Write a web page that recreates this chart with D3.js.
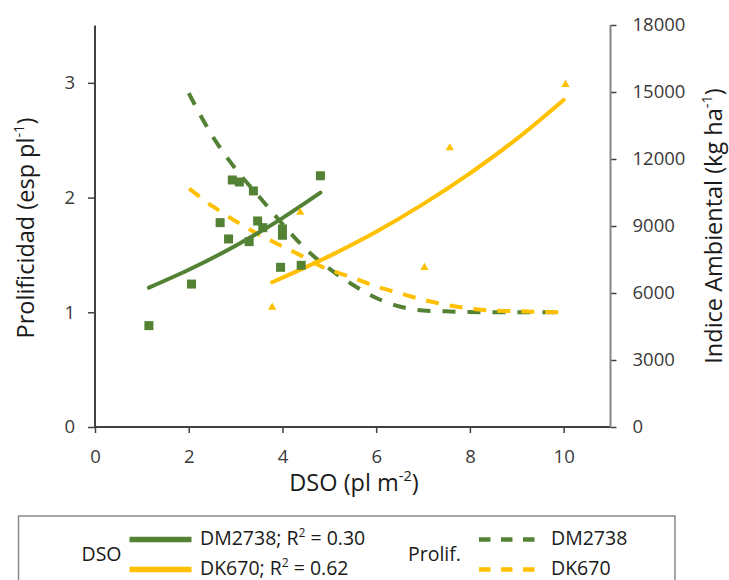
<!DOCTYPE html>
<html><head><meta charset="utf-8">
<script src="https://cdn.jsdelivr.net/npm/d3@7"></script>
<style>
body{margin:0;background:#fff;}
svg{display:block;font-family:"Open Sans",sans-serif;}
</style></head>
<body><svg id="c" width="729" height="580"></svg>
<script>
// ---- data ----
const xTicks = [0, 2, 4, 6, 8, 10];
const leftTicks = [0, 1, 2, 3];
const rightTicks = [0, 3000, 6000, 9000, 12000, 15000, 18000];

// scatter: DSO (x) vs Indice Ambiental (right axis)
const dm2738Dso = [1.15, 2.06, 2.67, 2.85, 2.93, 3.08, 3.38, 3.29, 3.47, 3.58, 4.00, 4.00, 3.96, 4.40, 4.81];
const dm2738Ia  = [4540, 6400, 9150, 8420, 11060, 10970, 10570, 8300, 9225, 8925, 8870, 8585, 7150, 7240, 11250];
const dk670Dso = [3.78, 4.38, 7.03, 7.57, 10.04];
const dk670Ia  = [5360, 9615, 7135, 12495, 15330];

// DSO trend lines (right axis)
const dm2738TrendX = [1.15, 2, 3, 4, 4.81];
const dm2738TrendY = [6240, 7040, 8115, 9355, 10490];
const dk670TrendX = [3.78, 5, 6, 7, 8, 9, 10];
const dk670TrendY = [6480, 7650, 8740, 9980, 11360, 12900, 14645];

// Prolificacy curves (left axis)
const dm2738ProlX = [2.0, 2.5, 3.0, 3.5, 4.0, 4.5, 5.0, 5.5, 6.0, 6.5, 7.0, 7.5, 8.5, 9.9];
const dm2738ProlY = [2.91, 2.54, 2.25, 2.01, 1.77, 1.55, 1.38, 1.24, 1.125, 1.05, 1.015, 1.008, 1.0, 1.0];
const dk670ProlX = [2.01, 2.53, 3.03, 3.49, 3.95, 4.45, 4.88, 5.45, 5.98, 6.52, 7.09, 7.66, 8.30, 8.94, 10.0];
const dk670ProlY = [2.078, 1.918, 1.787, 1.680, 1.585, 1.483, 1.390, 1.309, 1.228, 1.164, 1.100, 1.053, 1.019, 1.010, 0.999];

const GREEN = "#548235", YELLOW = "#FFC000";

// ---- scales ----
const svg = d3.select("#c");
const x = d3.scaleLinear().domain([0, 11]).range([95, 610.5]);
const yL = d3.scaleLinear().domain([0, 3.5]).range([427, 25.5]);
const yR = d3.scaleLinear().domain([0, 18000]).range([427, 25]);

// ---- axes ----
const axisDark = "#404040", axisGrey = "#868686";
const gx = svg.append("g").attr("transform", "translate(0,427)")
  .call(d3.axisBottom(x).tickValues(xTicks).tickSize(6).tickPadding(16.5).tickFormat(d3.format("d")));
const gl = svg.append("g").attr("transform", "translate(95,0)")
  .call(d3.axisLeft(yL).tickValues(leftTicks).tickSize(7).tickPadding(13).tickFormat(d3.format("d")));
const gr = svg.append("g").attr("transform", "translate(610.5,0)")
  .call(d3.axisRight(yR).tickValues(rightTicks).tickSize(6).tickPadding(16).tickFormat(d3.format("d")));
[gx, gl, gr].forEach(g => {
  g.select(".domain").remove();
  g.selectAll(".tick line").attr("stroke", axisDark).attr("stroke-width", 1.5);
  g.selectAll(".tick text").attr("font-family", "Open Sans").attr("font-size", 18.5).attr("fill", "#3a3a3a");
});
svg.append("line").attr("x1", 95).attr("x2", 610.5).attr("y1", 427).attr("y2", 427).attr("stroke", axisDark).attr("stroke-width", 2);
svg.append("line").attr("x1", 95).attr("x2", 95).attr("y1", yL(3.5)).attr("y2", 427).attr("stroke", axisDark).attr("stroke-width", 2);
svg.append("line").attr("x1", 610.5).attr("x2", 610.5).attr("y1", yR(18000)).attr("y2", 427).attr("stroke", axisGrey).attr("stroke-width", 2);

// ---- axis titles ----
const title = (sel, parts) => {
  parts.forEach(p => {
    const t = sel.append("tspan").text(p.t);
    if (p.sup) t.attr("baseline-shift", "super").attr("font-size", "62%");
  });
};
const xt = svg.append("text").attr("x", 354).attr("y", 491).attr("text-anchor", "middle")
  .attr("font-size", 23.5).attr("fill", "#1a1a1a");
title(xt, [{t: "DSO (pl m"}, {t: "-2", sup: true}, {t: ")"}]);
const lt = svg.append("text").attr("transform", "translate(34,228) rotate(-90)").attr("text-anchor", "middle")
  .attr("font-size", 23.5).attr("fill", "#1a1a1a");
title(lt, [{t: "Prolificidad (esp pl"}, {t: "-1", sup: true}, {t: ")"}]);
const rt = svg.append("text").attr("transform", "translate(722,226) rotate(-90)").attr("text-anchor", "middle")
  .attr("font-size", 23.5).attr("fill", "#1a1a1a");
title(rt, [{t: "Indice Ambiental (kg ha"}, {t: "-1", sup: true}, {t: ")"}]);

// ---- lines ----
const lineR = d3.line().x(d => x(d[0])).y(d => yR(d[1])).curve(d3.curveMonotoneX);
const lineL = d3.line().x(d => x(d[0])).y(d => yL(d[1])).curve(d3.curveMonotoneX);
const zip = (a, b) => a.map((v, i) => [v, b[i]]);

svg.append("path").attr("d", lineL(zip(dm2738ProlX, dm2738ProlY))).attr("fill", "none")
  .attr("stroke", GREEN).attr("stroke-width", 4).attr("stroke-dasharray", "13,12");
svg.append("path").attr("d", lineL(zip(dk670ProlX, dk670ProlY))).attr("fill", "none")
  .attr("stroke", YELLOW).attr("stroke-width", 4).attr("stroke-dasharray", "13,11");
svg.append("path").attr("d", lineR(zip(dm2738TrendX, dm2738TrendY))).attr("fill", "none")
  .attr("stroke", GREEN).attr("stroke-width", 4).attr("stroke-linecap", "round");
svg.append("path").attr("d", lineR(zip(dk670TrendX, dk670TrendY))).attr("fill", "none")
  .attr("stroke", YELLOW).attr("stroke-width", 4).attr("stroke-linecap", "round");

// ---- markers ----
svg.append("g").selectAll("rect").data(zip(dm2738Dso, dm2738Ia)).join("rect")
  .attr("x", d => x(d[0]) - 4.5).attr("y", d => yR(d[1]) - 4.5)
  .attr("width", 9).attr("height", 9).attr("fill", GREEN);
svg.append("g").selectAll("path").data(zip(dk670Dso, dk670Ia)).join("path")
  .attr("d", d3.symbol(d3.symbolTriangle, 30))
  .attr("transform", d => `translate(${x(d[0])},${yR(d[1])})`).attr("fill", YELLOW);

// ---- legend ----
const lg = svg.append("g").attr("font-size", 19.5).attr("fill", "#1a1a1a");
lg.append("rect").attr("x", 18.5).attr("y", 516).attr("width", 656.5).attr("height", 80)
  .attr("fill", "#fff").attr("stroke", "#8a8a8a").attr("stroke-width", 1.5);
lg.append("text").attr("x", 81.5).attr("y", 560.5).text("DSO");
lg.append("text").attr("x", 408).attr("y", 560.5).text("Prolif.");
const legRows = [
  {c: GREEN, y: 539.5, ty: 545, lab: ["DM2738; R", "2", " = 0.30"], lab2: "DM2738"},
  {c: YELLOW, y: 569.5, ty: 574.5, lab: ["DK670; R", "2", " = 0.62"], lab2: "DK670"}
];
legRows.forEach(r => {
  lg.append("line").attr("x1", 129.5).attr("x2", 191.5).attr("y1", r.y).attr("y2", r.y)
    .attr("stroke", r.c).attr("stroke-width", 5.5);
  const t = lg.append("text").attr("x", 200).attr("y", r.ty);
  t.append("tspan").text(r.lab[0]);
  t.append("tspan").text(r.lab[1]).attr("baseline-shift", "super").attr("font-size", "62%");
  t.append("tspan").text(r.lab[2]);
  lg.append("line").attr("x1", 479).attr("x2", 535).attr("y1", r.y).attr("y2", r.y)
    .attr("stroke", r.c).attr("stroke-width", 4.5).attr("stroke-dasharray", "11.5,10.5");
  lg.append("text").attr("x", 551).attr("y", r.ty).text(r.lab2);
});
</script></body></html>
